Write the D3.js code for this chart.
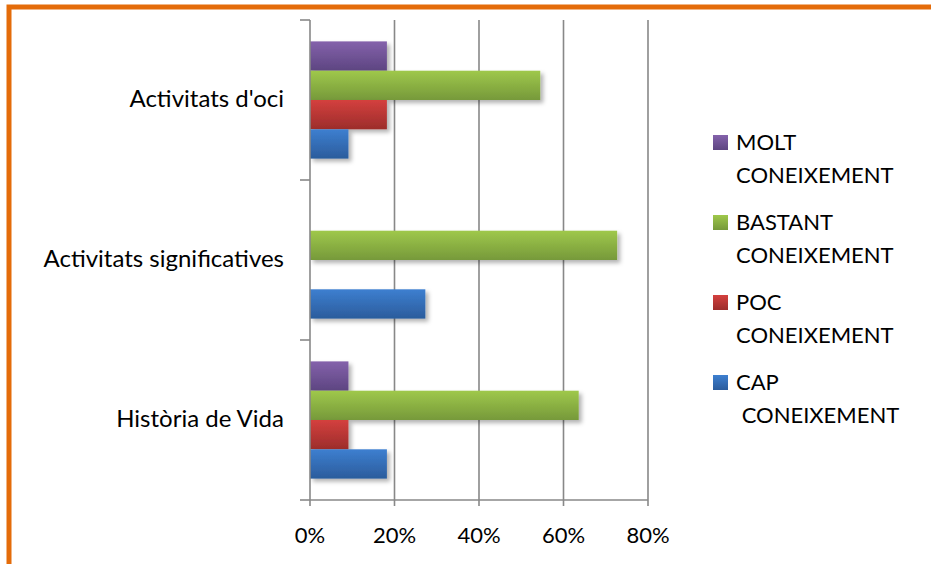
<!DOCTYPE html>
<html>
<head>
<meta charset="utf-8">
<script src="https://cdn.jsdelivr.net/npm/d3@7.9.0/dist/d3.min.js"></script>
<style>
  body { margin: 0; background: #fff; }
  svg text { font-family: Lato, "Open Sans", sans-serif; fill: #000; }
</style>
</head>
<body>
<svg id="chart" width="931" height="564"></svg>
<script>
// categories top -> bottom
const categories = ["Activitats d'oci", "Activitats significatives", "Història de Vida"];
// series, as stacked in each group top -> bottom
const series = ["MOLT", "BASTANT", "POC", "CAP"];
const legendLabels = [["MOLT", "CONEIXEMENT"], ["BASTANT", "CONEIXEMENT"], ["POC", "CONEIXEMENT"], ["CAP", " CONEIXEMENT"]];
// percentages per series, in category order
const molt    = [18.2, 0, 9.1];
const bastant = [54.5, 72.7, 63.6];
const poc     = [18.2, 0, 9.1];
const cap     = [9.1, 27.3, 18.2];
const xTicks = [0, 20, 40, 60, 80];

const values = { MOLT: molt, BASTANT: bastant, POC: poc, CAP: cap };
const colors = {
  MOLT: ["#8462ab", "#5d4581"],
  BASTANT: ["#9fc84b", "#76993a"],
  POC: ["#d4403e", "#9c2d2b"],
  CAP: ["#3d7fd0", "#2b5c9c"]
};

const svg = d3.select("#chart");
const defs = svg.append("defs");
for (const s of series) {
  const g = defs.append("linearGradient").attr("id", "grad-" + s)
    .attr("x1", 0).attr("y1", 0).attr("x2", 0).attr("y2", 1);
  g.append("stop").attr("offset", "0%").attr("stop-color", colors[s][0]);
  g.append("stop").attr("offset", "100%").attr("stop-color", colors[s][1]);
}
const f = defs.append("filter").attr("id", "shadow")
  .attr("x", "-10%").attr("y", "-30%").attr("width", "130%").attr("height", "180%");
f.append("feDropShadow").attr("dx", 3).attr("dy", 3).attr("stdDeviation", 2)
  .attr("flood-color", "#000").attr("flood-opacity", 0.3);

// orange frame
svg.append("rect").attr("x", 9).attr("y", 7).attr("width", 1000).attr("height", 700)
  .attr("fill", "none").attr("stroke", "#e46c0a").attr("stroke-width", 5);

const x = d3.scaleLinear().domain([0, 80]).range([310, 648]);
const y = d3.scaleBand().domain(categories).range([20, 500]);
const y1 = d3.scaleBand().domain(series).range([0, y.bandwidth()]).paddingOuter(0.73);

// gridlines
svg.append("g").selectAll("line").data(xTicks.slice(1)).join("line")
  .attr("x1", d => x(d)).attr("x2", d => x(d))
  .attr("y1", 20).attr("y2", 500)
  .attr("stroke", "#888").attr("stroke-width", 1.6);

// bars
const groups = svg.append("g").selectAll("g").data(categories).join("g")
  .attr("transform", c => `translate(0,${y(c)})`);
groups.selectAll("rect")
  .data((c, i) => series.map(s => ({ s, v: values[s][i] })).filter(d => d.v > 0))
  .join("rect")
  .attr("x", x(0))
  .attr("y", d => y1(d.s))
  .attr("width", d => x(d.v) - x(0))
  .attr("height", y1.bandwidth())
  .attr("fill", d => `url(#grad-${d.s})`)
  .attr("filter", "url(#shadow)");

// y axis
const yAxis = svg.append("g").attr("stroke", "#888").attr("stroke-width", 1.6);
yAxis.append("line").attr("x1", x(0)).attr("x2", x(0)).attr("y1", 20).attr("y2", 500);
const yTicks = categories.map(c => y(c)).concat([500]);
yAxis.selectAll(".yt").data(yTicks).join("line").attr("class", "yt")
  .attr("x1", x(0) - 10).attr("x2", x(0)).attr("y1", d => d).attr("y2", d => d);
// x axis
yAxis.append("line").attr("x1", x(0)).attr("x2", x(80)).attr("y1", 500).attr("y2", 500);
yAxis.selectAll(".xt").data(xTicks).join("line").attr("class", "xt")
  .attr("x1", d => x(d)).attr("x2", d => x(d)).attr("y1", 500).attr("y2", 506);

svg.append("g").selectAll("text").data(xTicks).join("text")
  .attr("x", d => x(d)).attr("y", 543)
  .attr("text-anchor", "middle").attr("font-size", 22)
  .text(d => d + "%");

svg.append("g").selectAll("text").data(categories).join("text")
  .attr("x", 284).attr("y", c => y(c) + y.bandwidth() / 2 + 7)
  .attr("text-anchor", "end").attr("font-size", 24)
  .text(c => c);

// legend
const leg = svg.append("g").selectAll("g").data(series).join("g")
  .attr("transform", (s, i) => `translate(713,${135 + i * 80})`);
leg.append("rect").attr("width", 15).attr("height", 15)
  .attr("fill", s => `url(#grad-${s})`);
leg.append("text").attr("x", 23).attr("y", 15).attr("font-size", 22)
  .text((s, i) => legendLabels[i][0]);
leg.append("text").attr("x", 23).attr("y", 48).attr("font-size", 22)
  .style("white-space", "pre")
  .text((s, i) => legendLabels[i][1]);
</script>
</body>
</html>
